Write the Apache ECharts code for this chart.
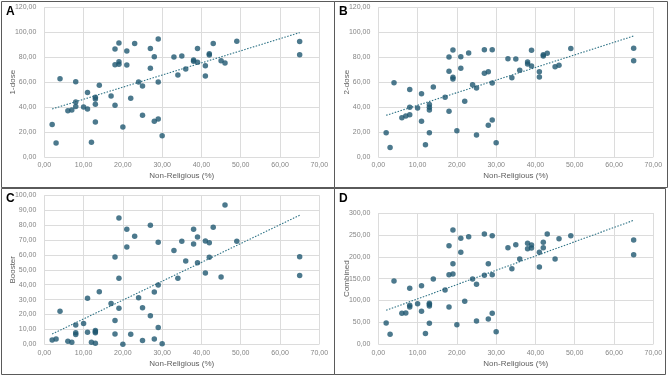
<!DOCTYPE html>
<html>
<head>
<meta charset="utf-8">
<script src="https://cdn.jsdelivr.net/npm/echarts@6/dist/echarts.min.js"></script>
<style>
  html, body { margin: 0; padding: 0; background: #fff; }
  #chart { width: 669px; height: 376px; }
</style>
</head>
<body>
<div id="chart"></div>
<script>
// Non-religious share (%) per country, shared by all four panels
const nonReligious = [2, 3, 4, 6, 7, 8, 8, 8, 10, 11, 11, 12, 13, 13, 13, 13, 14, 17, 18, 18, 18, 19, 19, 19, 20, 21, 21, 22, 23, 24, 25, 25, 27, 27, 28, 28, 29, 29, 29, 30, 33, 34, 35, 36, 38, 38, 39, 39, 41, 41, 42, 42, 43, 45, 46, 49, 65, 65];

const dose1 = [26, 11.2, 62.8, 37.1, 37.7, 60.4, 44.1, 40.4, 40.1, 51.8, 38.5, 11.8, 47.8, 46.5, 42.2, 28.1, 57.5, 48.9, 86.6, 74, 41.4, 91.4, 76.4, 74.3, 24, 85, 73.8, 47, 90.9, 60.1, 56.9, 33.4, 86.9, 71.1, 80.4, 28.6, 94.6, 60.1, 30.5, 17.1, 80.2, 65.7, 81, 70.6, 77.8, 76.7, 86.9, 75.9, 73.2, 64.9, 82.8, 81.8, 90.9, 77.2, 75.4, 92.7, 92.5, 82];

const dose2 = [19.5, 7.7, 59.6, 31.5, 32.9, 54.2, 39.8, 33.9, 39.3, 50.8, 28.6, 9.9, 42, 39.8, 37.7, 19.5, 56.1, 47.8, 80.2, 68.7, 36.6, 85.8, 63.9, 62.5, 21.1, 80.4, 71.1, 44.6, 83.4, 58, 55.3, 17.6, 86, 67.1, 68.4, 25.4, 86, 59.3, 29.7, 11.5, 78.8, 63.6, 78.6, 69.5, 76.2, 74.6, 85.5, 73, 68.4, 64.1, 82, 81, 83.1, 72.4, 73.5, 86.9, 87.1, 77.2];

const booster = [2.9, 3.6, 22.1, 2, 1.3, 13, 7.8, 6.5, 13.9, 30.9, 8.1, 1.3, 9.2, 8.5, 7.8, 0.7, 35.3, 27.3, 58.6, 15.9, 6.9, 84.8, 44.3, 24.2, 0, 77.2, 65.3, 6.7, 72.5, 31.3, 24.6, 2.5, 79.9, 19.2, 35.1, 3.6, 68.5, 39.8, 11.2, 0.4, 62.9, 44.3, 69.1, 55.9, 77.2, 67.3, 72, 54.8, 69.4, 47.9, 68.2, 58.4, 78.5, 45.2, 93.5, 69.1, 58.8, 46.1];

const combined = [48.7, 22.8, 144.7, 70.8, 71.6, 127.9, 89.1, 85.3, 92.9, 134, 75.4, 24.4, 93.7, 91, 87.6, 48, 149.2, 124.1, 225.4, 159.1, 85.3, 261.2, 184.3, 160.7, 44.9, 242.1, 210.2, 98.2, 245.9, 149.2, 137.1, 53.3, 252, 157.6, 184.3, 57.9, 248.2, 159.1, 70.8, 28.9, 220.8, 172.8, 227.7, 194.9, 230.7, 218.5, 226.9, 220, 210.2, 176.7, 233, 220.8, 252, 194.9, 241.4, 248.2, 238.3, 204.8];

// linear trend line end points: [x, y]
const trend1 = [[2, 38.5], [65, 99.7]];
const trend2 = [[2, 33.4], [65, 97]];
const trendBooster = [[2, 6.9], [65, 86.6]];
const trendCombined = [[2, 77.7], [65, 283.3]];

const panelLabels = ['A', 'B', 'C', 'D'];
const yNames = ['1-dose', '2-dose', 'Booster', 'Combined'];
const yMax = [120, 120, 100, 300];
const yStep = [20, 20, 10, 50];

const POINT_COLOR = '#1f5870';
const TREND_COLOR = '#2f7386';
const GRID_COLOR = '#dcdcdc';
const TICK_COLOR = '#858585';
const NAME_COLOR = '#606060';
const FONT = 'Liberation Sans, Arial, sans-serif';

let chart = echarts.init(document.getElementById('chart'));

function fmt(v) {
    return v.toFixed(2).replace('.', ',');
}

const grids = [
    {left: 44.3, right: 349.7, top: 7.3, bottom: 219},
    {left: 378.3, right: 15.7, top: 7.3, bottom: 219},
    {left: 44.3, right: 349.7, top: 195.3, bottom: 31.7},
    {left: 378.3, right: 15.7, top: 213, bottom: 31.7}
];

let xAxes = [];
let yAxes = [];
let series = [];
const values = [dose1, dose2, booster, combined];
const trends = [trend1, trend2, trendBooster, trendCombined];

for (let i = 0; i < 4; i++) {
    xAxes.push({
        gridIndex: i,
        type: 'value',
        min: 0,
        max: 70,
        interval: 10,
        name: 'Non-Religious (%)',
        nameLocation: 'middle',
        nameGap: 15,
        nameMoveOverlap: false,
        nameTextStyle: {color: NAME_COLOR, fontSize: 8, fontFamily: FONT},
        axisLine: {show: false},
        axisTick: {show: false},
        axisLabel: {color: TICK_COLOR, fontSize: 7, fontFamily: FONT, margin: 5, formatter: fmt},
        splitLine: {show: true, lineStyle: {color: GRID_COLOR, width: 1}}
    });
    yAxes.push({
        gridIndex: i,
        type: 'value',
        min: 0,
        max: yMax[i],
        interval: yStep[i],
        name: yNames[i],
        nameLocation: 'middle',
        nameRotate: 90,
        nameGap: 28,
        nameMoveOverlap: false,
        nameTextStyle: {color: NAME_COLOR, fontSize: 8, fontFamily: FONT},
        axisLine: {show: false},
        axisTick: {show: false},
        axisLabel: {color: TICK_COLOR, fontSize: 7, fontFamily: FONT, margin: 8, formatter: fmt},
        splitLine: {show: true, lineStyle: {color: GRID_COLOR, width: 1}}
    });
    series.push({
        type: 'scatter',
        xAxisIndex: i,
        yAxisIndex: i,
        symbolSize: 5.5,
        itemStyle: {color: POINT_COLOR},
        data: nonReligious.map((x, k) => [x, values[i][k]]),
        z: 3
    });
    series.push({
        type: 'line',
        xAxisIndex: i,
        yAxisIndex: i,
        symbol: 'none',
        lineStyle: {color: TREND_COLOR, width: 1.1, type: [1.5, 1.5]},
        data: trends[i],
        z: 2
    });
}

// panel frames and letters
const frames = [
    {x: 1, y: 1, w: 333, h: 186},
    {x: 334, y: 1, w: 333, h: 186},
    {x: 1, y: 188, w: 333, h: 186},
    {x: 334, y: 188, w: 331, h: 186}
];
let graphic = [];
frames.forEach((f, i) => {
    graphic.push({
        type: 'rect',
        shape: {x: f.x + 0.5, y: f.y + 0.5, width: f.w, height: f.h},
        style: {fill: 'none', stroke: '#5a5a5a', lineWidth: 1},
        silent: true
    });
    graphic.push({
        type: 'text',
        left: f.x + 5,
        top: f.y + 5,
        style: {text: panelLabels[i], font: 'bold 12px ' + FONT, fill: '#000'},
        silent: true
    });
});

let options = {
    animation: false,
    backgroundColor: '#fff',
    grid: grids,
    xAxis: xAxes,
    yAxis: yAxes,
    series: series,
    graphic: graphic
};

chart.setOption(options);
</script>
</body>
</html>
